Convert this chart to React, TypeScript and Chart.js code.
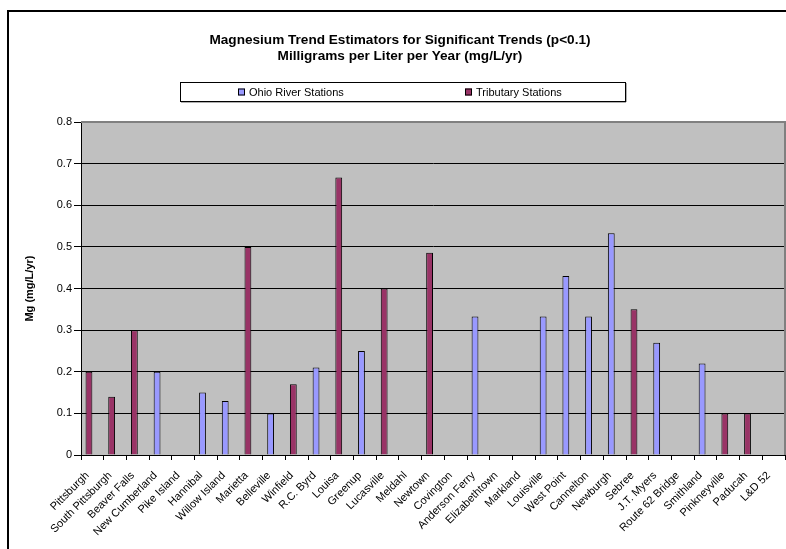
import React, { useEffect, useRef } from 'react';
import { Chart, registerables } from 'chart.js';

Chart.register(...registerables);

const categories = [
  'Pittsburgh', 'South Pittsburgh', 'Beaver Falls', 'New Cumberland', 'Pike Island',
  'Hannibal', 'Willow Island', 'Marietta', 'Belleville', 'Winfield', 'R.C. Byrd',
  'Louisa', 'Greenup', 'Lucasville', 'Meldahl', 'Newtown', 'Covington',
  'Anderson Ferry', 'Elizabethtown', 'Markland', 'Louisville', 'West Point',
  'Cannelton', 'Newburgh', 'Sebree', 'J.T. Myers', 'Route 62 Bridge', 'Smithland',
  'Pinkneyville', 'Paducah', 'L&D 52',
];

const ohioValues = [
  null, null, null, 0.2, null, 0.15, 0.13, null, 0.1, null, 0.21,
  null, 0.25, null, null, null, null, 0.333, null, null, 0.333, 0.43,
  0.333, 0.533, null, 0.27, null, 0.22, null, null, null,
];

const tributaryValues = [
  0.2, 0.14, 0.3, null, null, null, null, 0.5, null, 0.17, null,
  0.667, null, 0.4, null, 0.486, null, null, null, null, null, null,
  null, null, 0.35, null, null, null, 0.1, 0.1, null,
];

const emptySlot = categories.map(() => null);

const titleLines = [
  'Magnesium Trend Estimators for Significant Trends (p<0.1)',
  'Milligrams per Liter per Year (mg/L/yr)',
];
const yAxisTitle = 'Mg (mg/L/yr)';
const yMin = 0;
const yMax = 0.8;
const yStep = 0.1;

const FONT = "'Liberation Sans', Arial, sans-serif";

const framePlugin = {
  id: 'framePlugin',
  beforeDraw(chart: any) {
    const { ctx, chartArea } = chart;
    ctx.save();
    ctx.fillStyle = '#ffffff';
    ctx.fillRect(0, 0, chart.width, chart.height);
    ctx.fillStyle = '#C0C0C0';
    ctx.fillRect(chartArea.left, chartArea.top, chartArea.right - chartArea.left, chartArea.bottom - chartArea.top);
    ctx.restore();
  },
  beforeDatasetsDraw(chart: any) {
    const { ctx, chartArea } = chart;
    ctx.save();
    ctx.strokeStyle = '#808080';
    ctx.lineWidth = 2;
    ctx.beginPath();
    ctx.moveTo(chartArea.left, chartArea.top);
    ctx.lineTo(chartArea.right, chartArea.top);
    ctx.lineTo(chartArea.right, chartArea.bottom);
    ctx.stroke();
    ctx.restore();
  },
  afterDraw(chart: any) {
    const { ctx } = chart;
    ctx.save();
    // outer frame
    ctx.strokeStyle = '#000';
    ctx.lineWidth = 2;
    ctx.strokeRect(8, 11, chart.width - 16, chart.height + 20);
    // legend box
    const bx = 180, by = 82, bw = 445, bh = 19;
    ctx.fillStyle = '#fff';
    ctx.fillRect(bx, by, bw, bh);
    ctx.strokeStyle = '#606060';
    ctx.lineWidth = 1;
    ctx.beginPath();
    ctx.moveTo(bx + 1, by + bh + 1);
    ctx.lineTo(bx + bw + 1, by + bh + 1);
    ctx.lineTo(bx + bw + 1, by + 1);
    ctx.stroke();
    ctx.strokeStyle = '#000';
    ctx.strokeRect(bx + 0.5, by + 0.5, bw, bh);
    const items = chart.data.datasets.filter((d: any) => d.label);
    const cellW = bw / items.length;
    ctx.font = `11px ${FONT}`;
    ctx.textBaseline = 'middle';
    ctx.textAlign = 'left';
    items.forEach((d: any, i: number) => {
      const tw = ctx.measureText(d.label).width;
      const itemW = 7 + 4 + tw;
      const x0 = Math.round(bx + cellW * i + (cellW - itemW) / 2);
      const cy = by + bh / 2 + 1;
      ctx.fillStyle = d.backgroundColor;
      ctx.fillRect(x0, cy - 4, 7, 7);
      ctx.strokeStyle = '#000';
      ctx.strokeRect(x0 + 0.5, cy - 3.5, 6, 6);
      ctx.fillStyle = '#000';
      ctx.fillText(d.label, x0 + 11, cy);
    });
    ctx.restore();
  },
};

export default function App() {
  const canvasRef = useRef<HTMLCanvasElement | null>(null);

  useEffect(() => {
    if (!canvasRef.current) return;
    const chart = new Chart(canvasRef.current, {
      type: 'bar',
      data: {
        labels: categories,
        datasets: [
          {
            label: 'Ohio River Stations',
            data: ohioValues,
            backgroundColor: '#9999FF',
            borderColor: '#000000',
            borderWidth: 1,
            stack: 'a',
          },
          {
            label: 'Tributary Stations',
            data: tributaryValues,
            backgroundColor: '#993366',
            borderColor: '#000000',
            borderWidth: 1,
            stack: 'a',
          },
          {
            label: '',
            data: emptySlot,
            backgroundColor: 'rgba(0,0,0,0)',
            stack: 'b',
          },
        ],
      },
      options: {
        responsive: false,
        animation: false,
        events: [],
        datasets: {
          bar: {
            categoryPercentage: 0.6,
            barPercentage: 1,
          },
        },
        layout: { padding: { left: 15, right: 19, top: 0, bottom: 0 } },
        plugins: {
          legend: { display: false },
          tooltip: { enabled: false },
          title: {
            display: true,
            text: titleLines,
            color: '#000',
            font: { family: FONT, size: 13.6, weight: 'bold', lineHeight: 1.18 },
            padding: { top: 32, bottom: 58 },
          },
        },
        scales: {
          x: {
            offset: true,
            grid: {
              display: true,
              offset: true,
              drawOnChartArea: false,
              drawTicks: true,
              tickLength: 5,
              color: '#000',
            },
            border: { display: true, color: '#000', width: 1 },
            ticks: {
              autoSkip: false,
              minRotation: 45,
              maxRotation: 45,
              color: '#000',
              padding: 9,
              labelOffset: -5,
              font: { family: FONT, size: 11 },
            },
            afterFit: (scale: any) => {
              scale.height = 125;
            },
          },
          y: {
            min: yMin,
            max: yMax,
            ticks: {
              stepSize: yStep,
              color: '#000',
              padding: 2,
              font: { family: FONT, size: 11 },
            },
            grid: {
              color: '#000',
              lineWidth: 1,
              tickLength: 7,
              drawTicks: true,
            },
            border: { display: true, color: '#000', width: 1 },
            title: {
              display: true,
              text: yAxisTitle,
              color: '#000',
              padding: { top: 8, bottom: 4 },
              font: { family: FONT, size: 11, weight: 'bold' },
            },
            afterFit: (scale: any) => {
              scale.width = 66;
            },
          },
        },
      },
      plugins: [framePlugin],
    });
    return () => chart.destroy();
  }, []);

  return (
    <div style={{ position: 'absolute', left: 0, top: 0, width: 786, height: 549, overflow: 'hidden', background: '#fff' }}>
      <canvas ref={canvasRef} width={804} height={580} style={{ display: 'block' }} />
    </div>
  );
}
